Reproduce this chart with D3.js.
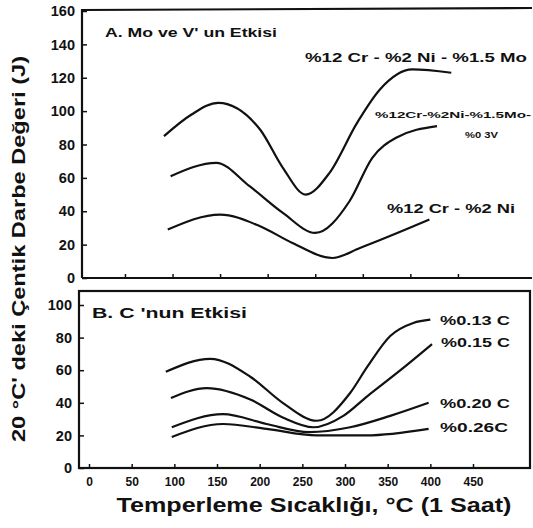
<!DOCTYPE html>
<html>
<head>
<meta charset="utf-8">
<script src="https://cdn.jsdelivr.net/npm/d3@7"></script>
<style>
  body { margin: 0; background: #fff; }
  svg text { font-family: "Liberation Sans", Arial, sans-serif; fill: #111; }
</style>
</head>
<body>
<svg id="chart" width="533" height="528"></svg>
<script>
// panel A: Mo and V effect (temperature °C, impact energy J)
var moTemp = [91, 120, 148, 192, 216, 240, 265, 294, 318, 352, 393];
var moVal = [85, 98, 105, 89, 66, 50, 63, 93, 113, 125, 123];
var moVTemp = [98, 146, 181, 216, 250, 286, 310, 335, 378];
var moVVal = [61, 69, 55, 39, 27, 46, 72, 84, 91];
var crNiTemp = [95, 150, 192, 226, 268, 297, 370];
var crNiVal = [29, 38, 31, 21, 12, 18, 35];

// panel B: carbon effect
var c13Temp = [90, 142, 189, 227, 267, 306, 326, 353, 380, 400];
var c13Val = [59, 67, 56, 40, 29, 46, 62, 81, 89, 91];
var c15Temp = [96, 138, 189, 227, 263, 298, 326, 365, 402];
var c15Val = [43, 49, 42, 31, 25, 32, 44, 60, 76];
var c20Temp = [97, 157, 208, 258, 306, 353, 398];
var c20Val = [25, 33, 27, 22, 25, 32, 40];
var c26Temp = [97, 157, 208, 267, 325, 398];
var c26Val = [19, 27, 24, 20, 20, 24];

var xTicks = [0, 50, 100, 150, 200, 250, 300, 350, 400, 450];
var xTicksA = [50, 100, 150, 200, 250, 300, 350, 400];
var yTicksA = [0, 20, 40, 60, 80, 100, 120, 140, 160];
var yTicksB = [0, 20, 40, 60, 80, 100];

var svg = d3.select("#chart");

// scales
var xA = d3.scaleLinear().domain([0, 450]).range([77.4, 505.5]);
var yA = d3.scaleLinear().domain([0, 160]).range([278, 11]);
var xB = d3.scaleLinear().domain([0, 450]).range([89, 473]);
var yB = d3.scaleLinear().domain([0, 100]).range([468, 305]);

var line = function (xs, ys) {
    return d3.line()
        .x(function (d) { return xs(d[0]); })
        .y(function (d) { return ys(d[1]); })
        .curve(d3.curveMonotoneX);
};
var zip = function (a, b) { return a.map(function (v, i) { return [v, b[i]]; }); };

// ---- panel A frame
svg.append("path")
    .attr("d", "M82,278 L82,10 L532,8")
    .attr("fill", "none").attr("stroke", "#111").attr("stroke-width", 2.2);
svg.append("line")
    .attr("x1", 82).attr("x2", 532).attr("y1", 278).attr("y2", 278)
    .attr("stroke", "#111").attr("stroke-width", 2.2);

var axA = svg.append("g").attr("transform", "translate(82,0)")
    .call(d3.axisLeft(yA).tickValues(yTicksA).tickSize(-5).tickPadding(7));
axA.select(".domain").remove();
var axAx = svg.append("g").attr("transform", "translate(0,278)")
    .call(d3.axisBottom(xA).tickValues(xTicksA).tickSize(-4).tickFormat(""));
axAx.select(".domain").remove();

// ---- panel B frame
svg.append("rect")
    .attr("x", 79).attr("y", 291).attr("width", 451).attr("height", 177)
    .attr("fill", "none").attr("stroke", "#111").attr("stroke-width", 2.2);

var axB = svg.append("g").attr("transform", "translate(79,0)")
    .call(d3.axisLeft(yB).tickValues(yTicksB).tickSize(-5).tickPadding(7));
axB.select(".domain").remove();
var axBx = svg.append("g").attr("transform", "translate(0,468)")
    .call(d3.axisBottom(xB).tickValues(xTicks).tickSize(-4).tickPadding(9));
axBx.select(".domain").remove();

svg.selectAll(".tick line").attr("stroke", "#111").attr("stroke-width", 1.5);
svg.selectAll(".tick text")
    .attr("font-size", 14.5).attr("font-weight", "bold")
    .style("font-family", "'Liberation Sans', Arial, sans-serif").attr("fill", "#111");
axBx.selectAll(".tick text").attr("font-size", 12);

// ---- curves
var curvesA = [[moTemp, moVal], [moVTemp, moVVal], [crNiTemp, crNiVal]];
svg.selectAll("path.curveA")
    .data(curvesA)
    .enter()
    .append("path")
    .attr("class", "curveA")
    .attr("d", function (d) { return line(xA, yA)(zip(d[0], d[1])); })
    .attr("fill", "none").attr("stroke", "#111").attr("stroke-width", 2.2);

var curvesB = [[c13Temp, c13Val], [c15Temp, c15Val], [c20Temp, c20Val], [c26Temp, c26Val]];
svg.selectAll("path.curveB")
    .data(curvesB)
    .enter()
    .append("path")
    .attr("class", "curveB")
    .attr("d", function (d) { return line(xB, yB)(zip(d[0], d[1])); })
    .attr("fill", "none").attr("stroke", "#111").attr("stroke-width", 2.2);

// ---- labels
var label = function (txt, x, y, size, w) {
    var t = svg.append("text")
        .attr("x", x).attr("y", y)
        .attr("font-size", size).attr("font-weight", "bold")
        .text(txt);
    if (w) {
        t.attr("textLength", w).attr("lengthAdjust", "spacingAndGlyphs");
    }
    return t;
};

label("A.  Mo ve V' un Etkisi", 105, 37, 12, 172);
label("%12 Cr - %2 Ni - %1.5 Mo", 305, 62, 13, 222);
label("%12Cr-%2Ni-%1.5Mo-", 375, 118, 9.5, 156);
label("%0 3V", 465, 138, 9.5, 33);
label("%12 Cr - %2 Ni", 387, 213, 13, 128);

label("B.  C 'nun Etkisi", 92, 318, 14, 155);
label("%0.13 C", 440, 325, 13, 70);
label("%0.15 C", 441, 347, 13, 69);
label("%0.20 C", 440, 408, 13, 70);
label("%0.26C", 440, 432, 13, 68);

// axis titles
svg.append("text")
    .attr("x", 314).attr("y", 512)
    .attr("text-anchor", "middle")
    .attr("font-size", 20).attr("font-weight", "bold")
    .attr("textLength", 395).attr("lengthAdjust", "spacingAndGlyphs")
    .text("Temperleme Sıcaklığı, °C (1 Saat)");

svg.append("text")
    .attr("transform", "translate(25,249) rotate(-90)")
    .attr("text-anchor", "middle")
    .attr("font-size", 18).attr("font-weight", "bold")
    .attr("textLength", 386).attr("lengthAdjust", "spacingAndGlyphs")
    .text("20 °C' deki Çentik Darbe Değeri (J)");
</script>
</body>
</html>
